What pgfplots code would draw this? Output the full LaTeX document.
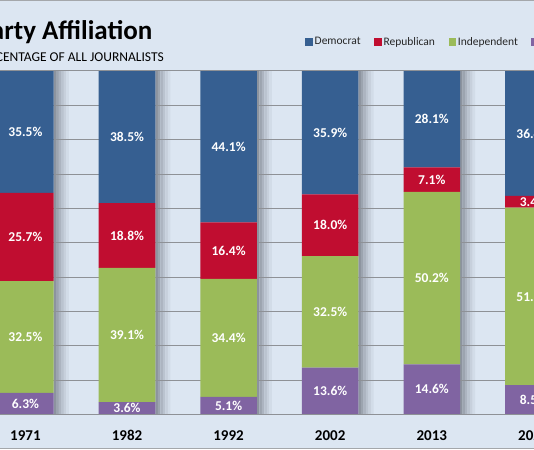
\documentclass[border=0pt]{standalone}
\usepackage{pgfplots}
\pgfplotsset{compat=1.18}
\usepackage{fontspec}
\setmainfont{Carlito}

\definecolor{bg}{HTML}{DCE6F2}
\definecolor{dem}{HTML}{365F91}
\definecolor{rep}{HTML}{C00D30}
\definecolor{ind}{HTML}{9BBB59}
\definecolor{oth}{HTML}{8064A2}
\definecolor{gridc}{HTML}{8E9196}
\definecolor{shad}{HTML}{8C939E}

\pgfplotsset{
  frame/.style={width=534pt, height=343.4pt, scale only axis,
    xmin=-0.25, xmax=5.006, ymin=0, ymax=100,
    at={(0pt,34.6pt)}, anchor=south west},
  sq/.style={legend image code/.code={\fill[#1] (0pt,-3pt) rectangle (6.5pt,3.5pt);}},
  strip/.style 2 args={forget plot, draw=none, fill=shad!#2!bg, bar width=2.6pt, bar shift=#1pt},
}

\begin{document}
\begin{tikzpicture}[x=1pt,y=1pt]
\useasboundingbox (0,0) rectangle (534,449);
\clip (0,0) rectangle (534,449);
\fill[bg] (0,0) rectangle (534,449);

% shadows right of the bars, and the legend
\begin{axis}[frame, hide axis, ybar,
  legend columns=-1,
  legend style={at={(rel axis cs:0.5713,1.0845)}, anchor=west,
    draw=none, fill=none, inner sep=0pt,
    font=\fontsize{11.5}{13}\selectfont, text=black!85,
    nodes={inner xsep=2.5pt},
    /tikz/every even column/.append style={column sep=11pt}},
]
\addplot[strip={29.55}{100}] coordinates {(0,100) (1,100) (2,100) (3,100) (4,100) (5,100)};
\addplot[strip={32.05}{80}] coordinates {(0,100) (1,100) (2,100) (3,100) (4,100) (5,100)};
\addplot[strip={34.55}{60}] coordinates {(0,100) (1,100) (2,100) (3,100) (4,100) (5,100)};
\addplot[strip={37.05}{42}] coordinates {(0,100) (1,100) (2,100) (3,100) (4,100) (5,100)};
\addplot[strip={39.55}{26}] coordinates {(0,100) (1,100) (2,100) (3,100) (4,100) (5,100)};
\addplot[strip={42.05}{12}] coordinates {(0,100) (1,100) (2,100) (3,100) (4,100) (5,100)};
\addlegendimage{sq=dem}\addlegendentry{Democrat}
\addlegendimage{sq=rep}\addlegendentry{Republican}
\addlegendimage{sq=ind}\addlegendentry{Independent}
\addlegendimage{sq=oth}\addlegendentry{Other}
\end{axis}

\begin{axis}[frame, ybar stacked, bar width=56.5pt,
  axis line style={draw=none},
  ytick={10,20,...,90}, yticklabels={}, ytick style={draw=none},
  ymajorgrids, major grid style={gridc, line width=1pt},
  xtick={0,...,5}, xticklabels={1971,1982,1992,2002,2013,2022},
  xtick style={draw=none},
  minor xtick={0.5,1.5,2.5,3.5,4.5},
  minor x tick style={gridc, line width=0.8pt},
  minor tick length=4pt, tick align=outside, xtick pos=bottom,
  xticklabel style={font=\bfseries\fontsize{15}{17}\selectfont, yshift=-8pt},
  nodes near coords={\pgfmathprintnumber[fixed,fixed zerofill,precision=1,assume math mode=true]{\pgfplotspointmeta}\%},
  every node near coord/.append style={font=\bfseries\fontsize{13.5}{15}\selectfont,
    text=white, anchor=center},
]
\addplot[fill=oth, draw=none] coordinates {(0,6.3) (1,3.6) (2,5.1) (3,13.6) (4,14.6) (5,8.5)};
\addplot[fill=ind, draw=none] coordinates {(0,32.5) (1,39.1) (2,34.4) (3,32.5) (4,50.2) (5,51.7)};
\addplot[fill=rep, draw=none] coordinates {(0,25.7) (1,18.8) (2,16.4) (3,18.0) (4,7.1) (5,3.4)};
\addplot[fill=dem, draw=none] coordinates {(0,35.5) (1,38.5) (2,44.1) (3,35.9) (4,28.1) (5,36.4)};
\end{axis}

\draw[gridc, line width=1pt] (0,34.6) -- (534,34.6);
\draw[gridc, line width=1pt] (0,378) -- (534,378);
\draw[gridc!80, line width=1.5pt] (0,448.5) -- (534,448.5);
\draw[gridc!80, line width=1.5pt] (0,0.5) -- (534,0.5);

\node[anchor=base east, inner sep=0pt, font=\bfseries\fontsize{27}{30}\selectfont]
  at (152.5,409) {Party Affiliation};
\node[anchor=base east, inner sep=0pt, font=\fontsize{13.5}{15}\selectfont]
  at (164,387.7) {PERCENTAGE OF ALL JOURNALISTS};
\end{tikzpicture}
\end{document}
